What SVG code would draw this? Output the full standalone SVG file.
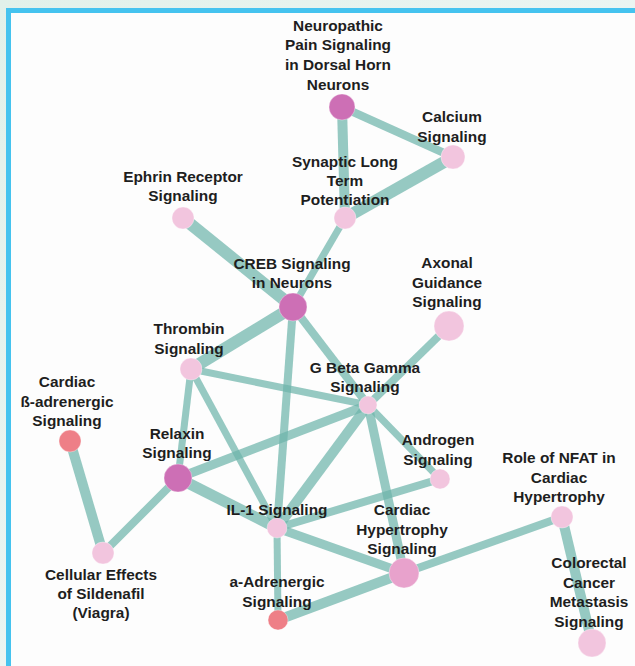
<svg xmlns="http://www.w3.org/2000/svg" width="635" height="666" viewBox="0 0 635 666">
  <defs>
    <linearGradient id="bg" x1="0" y1="0" x2="1" y2="1">
      <stop offset="0" stop-color="#e2f1ea"/>
      <stop offset="1" stop-color="#f3f9fa"/>
    </linearGradient>
    <style>
      .edge { stroke: #6eb4aa; stroke-opacity: 0.72; stroke-linecap: butt; fill: none; }
      .lbl { font-family: "Liberation Sans", Arial, sans-serif; font-weight: bold; font-size: 15.4px; fill: #1e1e1e; text-anchor: middle; }
      .mag { fill: #cd6fb5; }
      .mid { fill: #e8a2cc; }
      .lt { fill: #f2c5de; }
      .sal { fill: #ee7f87; }
      .node circle { stroke: #ffffff; stroke-opacity: 0.35; stroke-width: 1; }
    </style>
  </defs>

  <!-- background and frame -->
  <rect x="0" y="0" width="635" height="666" fill="url(#bg)"/>
  <rect x="6" y="8" width="629" height="658" fill="#fdfdfd"/>
  <rect x="6" y="8" width="629" height="5" fill="#45c3ef"/>
  <rect x="6" y="8" width="5" height="658" fill="#45c3ef"/>

  <g id="connectors">
    <line class="edge" x1="342" y1="107" x2="453" y2="157" stroke-width="8"/>
    <line class="edge" x1="342" y1="107" x2="345" y2="218" stroke-width="10"/>
    <line class="edge" x1="453" y1="157" x2="345" y2="218" stroke-width="12"/>
    <line class="edge" x1="345" y1="218" x2="293" y2="307" stroke-width="7"/>
    <line class="edge" x1="183" y1="218" x2="293" y2="307" stroke-width="12"/>
    <line class="edge" x1="293" y1="307" x2="191" y2="369" stroke-width="12"/>
    <line class="edge" x1="293" y1="307" x2="277" y2="528" stroke-width="8"/>
    <line class="edge" x1="293" y1="307" x2="368" y2="405" stroke-width="8"/>
    <line class="edge" x1="449" y1="326" x2="368" y2="405" stroke-width="8"/>
    <line class="edge" x1="191" y1="369" x2="368" y2="405" stroke-width="7"/>
    <line class="edge" x1="191" y1="369" x2="178" y2="478" stroke-width="7"/>
    <line class="edge" x1="191" y1="369" x2="277" y2="528" stroke-width="7"/>
    <line class="edge" x1="178" y1="478" x2="368" y2="405" stroke-width="9"/>
    <line class="edge" x1="178" y1="478" x2="277" y2="528" stroke-width="11"/>
    <line class="edge" x1="178" y1="478" x2="103" y2="553" stroke-width="8"/>
    <line class="edge" x1="70" y1="441" x2="103" y2="553" stroke-width="10"/>
    <line class="edge" x1="368" y1="405" x2="277" y2="528" stroke-width="10"/>
    <line class="edge" x1="368" y1="405" x2="440" y2="479" stroke-width="7"/>
    <line class="edge" x1="368" y1="405" x2="404" y2="573" stroke-width="9"/>
    <line class="edge" x1="277" y1="528" x2="440" y2="479" stroke-width="8"/>
    <line class="edge" x1="277" y1="528" x2="404" y2="573" stroke-width="9"/>
    <line class="edge" x1="277" y1="528" x2="278" y2="620" stroke-width="7"/>
    <line class="edge" x1="278" y1="620" x2="404" y2="573" stroke-width="10"/>
    <line class="edge" x1="404" y1="573" x2="562" y2="517" stroke-width="8"/>
    <line class="edge" x1="562" y1="517" x2="592" y2="643" stroke-width="10"/>
  </g>

  <g id="neuropathic" class="node">
    <circle class="mag" cx="342" cy="107" r="13"/>
    <text class="lbl" x="338" y="30.5">Neuropathic<tspan x="338" dy="19.7">Pain Signaling</tspan><tspan x="338" dy="19.7">in Dorsal Horn</tspan><tspan x="338" dy="19.7">Neurons</tspan></text>
  </g>
  <g id="calcium" class="node">
    <circle class="lt" cx="453" cy="157" r="12"/>
    <text class="lbl" x="452" y="122">Calcium<tspan x="452" dy="20">Signaling</tspan></text>
  </g>
  <g id="synaptic" class="node">
    <circle class="lt" cx="345" cy="218" r="11"/>
    <text class="lbl" x="345" y="167">Synaptic Long<tspan x="345" dy="19">Term</tspan><tspan x="345" dy="19">Potentiation</tspan></text>
  </g>
  <g id="ephrin" class="node">
    <circle class="lt" cx="183" cy="218" r="11"/>
    <text class="lbl" x="183" y="182">Ephrin Receptor<tspan x="183" dy="19">Signaling</tspan></text>
  </g>
  <g id="creb" class="node">
    <circle class="mag" cx="293" cy="307" r="14"/>
    <text class="lbl" x="292" y="269">CREB Signaling<tspan x="292" dy="19">in Neurons</tspan></text>
  </g>
  <g id="axonal" class="node">
    <circle class="lt" cx="449" cy="326" r="15"/>
    <text class="lbl" x="447" y="268">Axonal<tspan x="447" dy="19.5">Guidance</tspan><tspan x="447" dy="19.5">Signaling</tspan></text>
  </g>
  <g id="thrombin" class="node">
    <circle class="lt" cx="191" cy="369" r="11"/>
    <text class="lbl" x="189" y="334">Thrombin<tspan x="189" dy="20">Signaling</tspan></text>
  </g>
  <g id="gbeta" class="node">
    <circle class="lt" cx="368" cy="405" r="9"/>
    <text class="lbl" x="365" y="373">G Beta Gamma<tspan x="365" dy="19">Signaling</tspan></text>
  </g>
  <g id="cardiacbeta" class="node">
    <circle class="sal" cx="70" cy="441" r="11"/>
    <text class="lbl" x="67" y="387">Cardiac<tspan x="67" dy="19.5">ß-adrenergic</tspan><tspan x="67" dy="19.5">Signaling</tspan></text>
  </g>
  <g id="relaxin" class="node">
    <circle class="mag" cx="178" cy="478" r="14"/>
    <text class="lbl" x="177" y="439">Relaxin<tspan x="177" dy="19">Signaling</tspan></text>
  </g>
  <g id="androgen" class="node">
    <circle class="lt" cx="440" cy="479" r="10"/>
    <text class="lbl" x="438" y="445">Androgen<tspan x="438" dy="20">Signaling</tspan></text>
  </g>
  <g id="nfat" class="node">
    <circle class="lt" cx="562" cy="517" r="11"/>
    <text class="lbl" x="559" y="463">Role of NFAT in<tspan x="559" dy="19.5">Cardiac</tspan><tspan x="559" dy="19.5">Hypertrophy</tspan></text>
  </g>
  <g id="il1" class="node">
    <circle class="lt" cx="277" cy="528" r="10"/>
    <text class="lbl" x="277" y="515">IL-1 Signaling</text>
  </g>
  <g id="cardiachyp" class="node">
    <circle class="mid" cx="404" cy="573" r="15"/>
    <text class="lbl" x="402" y="515">Cardiac<tspan x="402" dy="19.5">Hypertrophy</tspan><tspan x="402" dy="19.5">Signaling</tspan></text>
  </g>
  <g id="cellular" class="node">
    <circle class="lt" cx="103" cy="553" r="11"/>
    <text class="lbl" x="101" y="580">Cellular Effects<tspan x="101" dy="19">of Sildenafil</tspan><tspan x="101" dy="19">(Viagra)</tspan></text>
  </g>
  <g id="aadrenergic" class="node">
    <circle class="sal" cx="278" cy="620" r="10"/>
    <text class="lbl" x="277" y="587">a-Adrenergic<tspan x="277" dy="20">Signaling</tspan></text>
  </g>
  <g id="colorectal" class="node">
    <circle class="lt" cx="592" cy="643" r="14"/>
    <text class="lbl" x="589" y="568">Colorectal<tspan x="589" dy="19.7">Cancer</tspan><tspan x="589" dy="19.7">Metastasis</tspan><tspan x="589" dy="19.7">Signaling</tspan></text>
  </g>
</svg>
